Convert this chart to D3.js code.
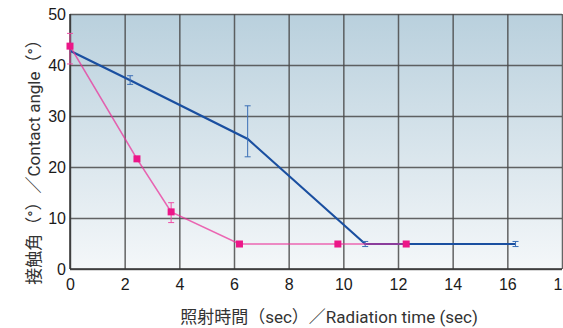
<!DOCTYPE html>
<html>
<head>
<meta charset="utf-8">
<script src="https://cdn.jsdelivr.net/npm/d3@7"></script>
<style>
  body { margin: 0; background: #fff; }
  svg { display: block; font-family: "Liberation Sans", Arial, sans-serif; }
</style>
</head>
<body>
<div id="chart"></div>
<script>
// blue series (time sec, angle deg, error low/high)
const blueTime = [0, 2.2, 6.5, 10.8, 16.3];
const blueAngle = [42.8, 37.0, 25.5, 4.9, 4.9];
const blueErrLow = [null, 36.2, 22.0, 4.4, 4.4];
const blueErrHigh = [null, 37.9, 32.0, 5.4, 5.4];

// pink series
const pinkTime = [0, 2.45, 3.7, 6.2, 9.8, 12.3];
const pinkAngle = [43.7, 21.6, 11.2, 4.9, 4.9, 4.9];
const pinkErrLow = [40.2, null, 9.1, null, null, null];
const pinkErrHigh = [46.2, null, 13.0, null, null, null];

const xTicks = [0, 2, 4, 6, 8, 10, 12, 14, 16, 18];
const yTicks = [0, 10, 20, 30, 40, 50];

const xTitle = '照射時間（sec）／Radiation time (sec)';
const yTitle = '接触角（°）／Contact angle（°）';

const W = 563, H = 328;
const margin = { top: 14, right: 1, bottom: 59, left: 70 };
const width = W - margin.left - margin.right;
const height = H - margin.top - margin.bottom;

const svg = d3.select('#chart').append('svg')
  .attr('width', W)
  .attr('height', H);

const defs = svg.append('defs');
const grad = defs.append('linearGradient')
  .attr('id', 'bg').attr('x1', 0).attr('y1', 0).attr('x2', 0).attr('y2', 1);
grad.append('stop').attr('offset', '0%').attr('stop-color', '#b9d0dd');
grad.append('stop').attr('offset', '100%').attr('stop-color', '#f4f7f9');

const g = svg.append('g')
  .attr('transform', `translate(${margin.left},${margin.top})`);

const x = d3.scaleLinear().domain([0, 18]).range([0, width]);
const y = d3.scaleLinear().domain([0, 50]).range([height, 0]);

g.append('rect')
  .attr('width', width)
  .attr('height', height)
  .attr('fill', 'url(#bg)');

// grid
g.append('g')
  .attr('transform', `translate(0,${height})`)
  .call(d3.axisBottom(x).tickValues(xTicks).tickSize(-height).tickFormat(''))
  .call(a => a.select('.domain').remove())
  .selectAll('.tick line')
  .attr('stroke', '#4a4a4a')
  .attr('stroke-opacity', 0.85)
  .attr('stroke-width', 1.5);

g.append('g')
  .call(d3.axisLeft(y).tickValues(yTicks).tickSize(-width).tickFormat(''))
  .call(a => a.select('.domain').remove())
  .selectAll('.tick line')
  .attr('stroke', '#4a4a4a')
  .attr('stroke-opacity', 0.85)
  .attr('stroke-width', 1.5);

// axis frame lines
g.append('line').attr('x1', 0).attr('x2', 0).attr('y1', 0).attr('y2', height)
  .attr('stroke', '#333').attr('stroke-width', 1.5);
g.append('line').attr('x1', 0).attr('x2', width).attr('y1', height).attr('y2', height)
  .attr('stroke', '#333').attr('stroke-width', 1.5);

// tick labels
g.append('g')
  .attr('transform', `translate(0,${height})`)
  .call(d3.axisBottom(x).tickValues(xTicks).tickSize(0).tickPadding(10))
  .call(a => a.select('.domain').remove())
  .selectAll('text')
  .attr('font-size', 16)
  .attr('font-family', '"Liberation Sans", Arial, sans-serif')
  .attr('fill', '#1a1a1a');

g.append('g')
  .call(d3.axisLeft(y).tickValues(yTicks).tickSize(0).tickPadding(4))
  .call(a => a.select('.domain').remove())
  .selectAll('text')
  .attr('font-size', 16)
  .attr('font-family', '"Liberation Sans", Arial, sans-serif')
  .attr('fill', '#1a1a1a');

const pink = d3.range(pinkTime.length).map(i => ({ t: pinkTime[i], a: pinkAngle[i], lo: pinkErrLow[i], hi: pinkErrHigh[i] }));
const blue = d3.range(blueTime.length).map(i => ({ t: blueTime[i], a: blueAngle[i], lo: blueErrLow[i], hi: blueErrHigh[i] }));

const line = d3.line().x(d => x(d.t)).y(d => y(d.a));

const errPath = d => `M${x(d.t) - 3},${y(d.hi)}H${x(d.t) + 3}M${x(d.t)},${y(d.hi)}V${y(d.lo)}M${x(d.t) - 3},${y(d.lo)}H${x(d.t) + 3}`;

// blue series
g.append('path')
  .datum(blue)
  .attr('fill', 'none')
  .attr('stroke', '#1a4fa0')
  .attr('stroke-width', 2.2)
  .attr('d', line);

g.selectAll('.berr')
  .data(blue.filter(d => d.lo != null))
  .enter().append('path')
  .attr('class', 'berr')
  .attr('fill', 'none')
  .attr('stroke', '#3b6fb6')
  .attr('stroke-width', 1)
  .attr('d', errPath);

// pink series, semi-transparent so the overlap reads purple
g.append('path')
  .datum(pink)
  .attr('fill', 'none')
  .attr('stroke', '#ea2f98')
  .attr('stroke-opacity', 0.72)
  .attr('stroke-width', 1.6)
  .attr('d', line);

g.selectAll('.perr')
  .data(pink.filter(d => d.lo != null))
  .enter().append('path')
  .attr('class', 'perr')
  .attr('fill', 'none')
  .attr('stroke', '#ee4fa6')
  .attr('stroke-width', 1)
  .attr('d', errPath);

g.selectAll('.psq')
  .data(pink)
  .enter().append('rect')
  .attr('class', 'psq')
  .attr('x', d => x(d.t) - 3.5)
  .attr('y', d => y(d.a) - 3.5)
  .attr('width', 7)
  .attr('height', 7)
  .attr('fill', '#ec1688');

// axis titles
svg.append('text')
  .attr('x', 329)
  .attr('y', 323)
  .attr('text-anchor', 'middle')
  .attr('font-size', 17)
  .attr('font-family', 'Roboto, "Noto Sans CJK JP", sans-serif')
  .attr('fill', '#333')
  .text(xTitle);

svg.append('text')
  .attr('transform', 'translate(40,158) rotate(-90)')
  .attr('text-anchor', 'middle')
  .attr('font-size', 17)
  .attr('font-family', 'Roboto, "Noto Sans CJK JP", sans-serif')
  .attr('fill', '#333')
  .text(yTitle);
</script>
</body>
</html>
